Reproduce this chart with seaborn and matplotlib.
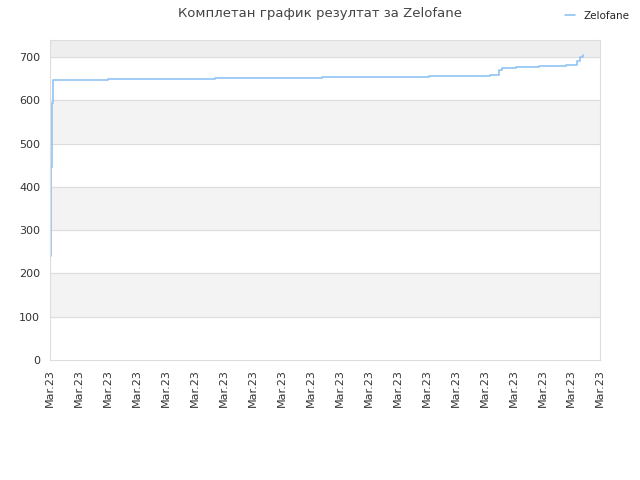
import numpy as np
import pandas as pd
import seaborn as sns
import matplotlib.pyplot as plt

# positions along the time axis (in tick units) and score values
days = [0, 0.02, 0.04, 0.06, 0.09, 2.0, 5.7, 9.4, 13.1, 15.2, 15.5, 15.6, 16.1, 16.9, 17.8, 18.2, 18.3, 18.4]
scores = [0, 240, 445, 595, 648, 650, 652, 654, 656, 658, 670, 675, 677, 679, 681, 690, 700, 705]
tick_labels = ["Mar.23"] * 20

df = pd.DataFrame({"day": days, "score": scores})

sns.set_style("white")
plt.rcParams['font.family'] = ['DejaVu Sans']
fig, ax = plt.subplots(figsize=(6.4, 4.8), dpi=100)
fig.subplots_adjust(left=0.078, right=0.938, top=0.917, bottom=0.25)

ymax = 740
ax.axhspan(700, ymax, color="#eeeeee", zorder=0)
for lo in (100, 300, 500):
    ax.axhspan(lo, lo + 100, color="#f3f3f3", zorder=0)
for y in range(100, 800, 100):
    ax.axhline(y, color="#dddddd", lw=0.8, zorder=0)

sns.lineplot(data=df, x="day", y="score", ax=ax, color="#90c4f4", lw=1.2,
             drawstyle="steps-post", label="Zelofane")

ax.set_xlim(0, 19)
ax.set_ylim(0, ymax)
ax.set_xticks(range(20))
ax.set_xticklabels(tick_labels, rotation=90, fontsize=8, color="#333333")
ax.set_yticks(range(0, 800, 100))
ax.tick_params(axis="y", labelsize=8, colors="#333333")
ax.tick_params(axis="x", length=3)
ax.set_xlabel("")
ax.set_ylabel("")
for s in ax.spines.values():
    s.set_color("#dddddd")

fig.suptitle("Комплетан график резултат за Zelofane", fontsize=9.5, color="#444444", y=0.985)
ax.legend(loc="upper right", bbox_to_anchor=(1.07, 1.12), frameon=False, fontsize=7.5, handlelength=1)
fig.savefig("out.png")
